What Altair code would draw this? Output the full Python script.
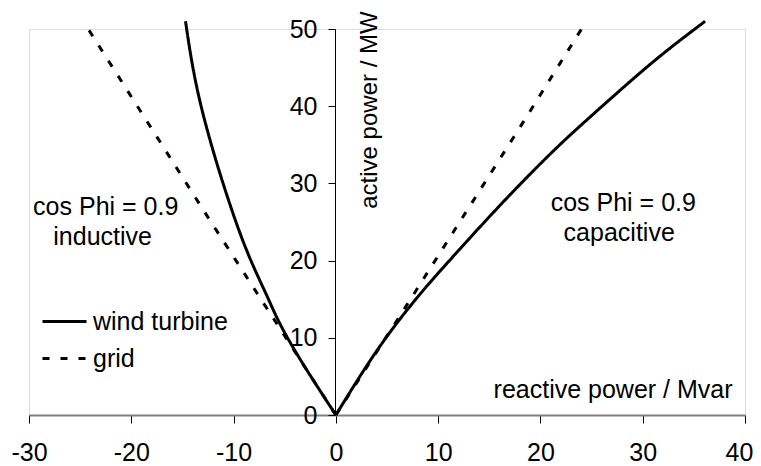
import altair as alt
import pandas as pd

# Wind turbine curve (reactive power Q in Mvar, active power P in MW)
turb_left_q = [0.0, -3.5, -5.6, -6.6, -8.4, -10.0, -12.1, -13.8, -14.7]
turb_left_p = [0.0, 7.1, 12.0, 15.1, 20.1, 25.7, 34.4, 43.0, 51.0]
turb_right_q = [0.0, 4.0, 7.7, 10.0, 16.0, 21.2, 24.0, 28.4, 32.0, 36.1]
turb_right_p = [0.0, 8.6, 14.9, 18.4, 27.2, 34.2, 37.6, 42.8, 46.9, 51.0]

# Grid limit (cos Phi = 0.9)
grid_left_q = [0.0, -6.1, -12.5, -18.3, -24.5]
grid_left_p = [0.0, 12.5, 25.6, 37.7, 50.6]
grid_right_q = [0.0, 6.1, 12.2, 18.3, 24.3]
grid_right_p = [0.0, 12.5, 25.2, 37.9, 50.6]

x_ticks = [-30, -20, -10, 0, 10, 20, 30, 40]
y_ticks = [0, 10, 20, 30, 40, 50]

series_names = ["wind turbine", "grid"]

ann_text = ["cos Phi = 0.9", "inductive", "cos Phi = 0.9", "capacitive", "reactive power / Mvar"]
ann_q = [-22.5, -22.8, 28.1, 27.7, 27.1]
ann_p = [26.9, 23.1, 27.5, 23.6, 3.3]

ylab_text = ["active power / MW"]
ylab_q = [3.3]
ylab_p = [39.5]

rows = []
for name, branch, qs, ps in [
    ("wind turbine", "L", turb_left_q, turb_left_p),
    ("wind turbine", "R", turb_right_q, turb_right_p),
    ("grid", "L", grid_left_q, grid_left_p),
    ("grid", "R", grid_right_q, grid_right_p),
]:
    for i, (q, p) in enumerate(zip(qs, ps)):
        rows.append({"series": name, "branch": name + branch, "q": q, "p": p, "ord": i})
df = pd.DataFrame(rows)

FONT = "Liberation Sans"
FS = 25

xscale = alt.Scale(domain=[-30, 40], nice=False, zero=False)
yscale = alt.Scale(domain=[0, 50], nice=False)
dash = alt.StrokeDash(
    "series:N",
    scale=alt.Scale(domain=series_names, range=[[1, 0], [7, 11]]),
    sort=series_names,
    legend=alt.Legend(
        title=None, orient="none", legendX=12, legendY=269,
        symbolType="stroke", symbolSize=1936, symbolStrokeWidth=3,
        symbolStrokeColor="black", labelFontSize=FS, labelFont=FONT,
        labelColor="black", labelOffset=5, rowPadding=-11, padding=0,
    ),
)

x_enc = alt.X("q:Q", scale=xscale, axis=alt.Axis(
    values=x_ticks, grid=False, title=None, domainColor="#808080", domainWidth=2,
    tickColor="black", tickSize=8, labelFontSize=FS, labelFont=FONT, labelColor="black",
    labelPadding=17, labelFlush=False, labelOverlap=False,
    labelOffset=alt.condition("datum.value == 40", alt.value(-6), alt.value(0)),
    labelExpr="datum.value + ''"))
y_enc = alt.Y("p:Q", scale=yscale, axis=alt.Axis(
    values=y_ticks, grid=False, title=None, offset=-306, domainColor="black",
    tickColor="black", tickSize=7, labelFontSize=FS, labelFont=FONT, labelColor="black",
    labelPadding=11, labelFlush=False, labelOverlap=False))

base = alt.Chart(df)
turb = base.transform_filter(alt.datum.series == "wind turbine").mark_line(
    color="black", strokeWidth=3, interpolate="basis", clip=False
).encode(x=x_enc, y=y_enc, strokeDash=dash, detail="branch:N", order="ord:Q")
grid = base.transform_filter(alt.datum.series == "grid").mark_line(
    color="black", strokeWidth=3, clip=False
).encode(x="q:Q", y="p:Q", strokeDash=dash, detail="branch:N", order="ord:Q")

ann = alt.Chart(pd.DataFrame({"t": ann_text, "q": ann_q, "p": ann_p})).mark_text(
    font=FONT, fontSize=FS, color="black", align="center", baseline="middle"
).encode(x="q:Q", y="p:Q", text="t:N")
ylab = alt.Chart(pd.DataFrame({"t": ylab_text, "q": ylab_q, "p": ylab_p})).mark_text(
    font=FONT, fontSize=24, color="black", align="center", baseline="middle", angle=270
).encode(x="q:Q", y="p:Q", text="t:N")

chart = alt.layer(turb, grid, ann, ylab).properties(
    width=716, height=386,
    autosize=alt.AutoSizeParams(type="none"),
    padding={"left": 21, "top": 21, "right": 8, "bottom": 50},
).configure_view(stroke=None).configure(background="white")

chart.save("out.html", embed_options={"renderer": "svg", "actions": False})
